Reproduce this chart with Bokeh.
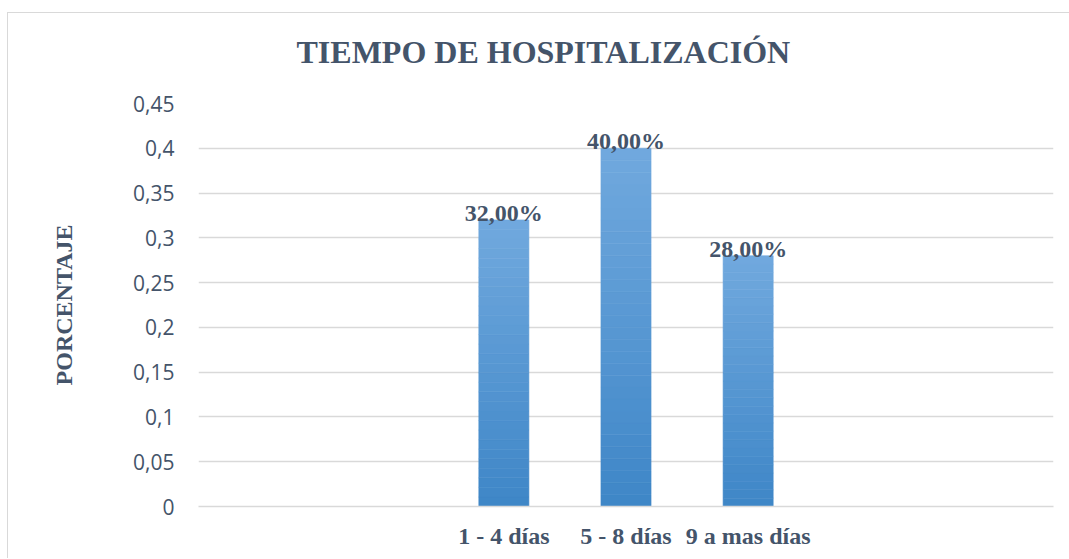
from bokeh.plotting import figure
from bokeh.models import FactorRange, Range1d, ColumnDataSource, LabelSet, Title, FixedTicker, CustomJSTickFormatter
from bokeh.embed import file_html
from bokeh.resources import INLINE

# ---- data ----
categories = ["1 - 4 días", "5 - 8 días", "9 a mas días"]
values = [0.32, 0.40, 0.28]
value_labels = ["32,00%", "40,00%", "28,00%"]
y_ticks = [0, 0.05, 0.1, 0.15, 0.2, 0.25, 0.3, 0.35, 0.4, 0.45]
chart_title = "TIEMPO DE HOSPITALIZACIÓN"

TEXT = "#44546A"
GRID = "#D9D9D9"
SERIF = "Liberation Serif"

x_range = FactorRange(factors=categories, range_padding=2, range_padding_units="absolute")
p = figure(x_range=x_range, y_range=Range1d(0, 0.45), width=1069, height=558,
           output_backend="svg", toolbar_location=None,
           min_border_left=198, min_border_right=16, min_border_top=103, min_border_bottom=52)
# light chart-area border (top and left edges) painted behind the transparent canvas
p.styles = {"background": ("linear-gradient(#D9D9D9, #D9D9D9) 7px 12px / 1px 100% no-repeat, "
                           "linear-gradient(#D9D9D9, #D9D9D9) 7px 12px / 100% 1px no-repeat, white")}
p.outline_line_color = None
p.background_fill_color = "white"
p.border_fill_color = None

# gradient bars (top lighter, bottom darker) built from stacked strips
n = 30
top_rgb = (0x71, 0xA9, 0xDE)
bot_rgb = (0x3E, 0x86, 0xC7)
for i in range(n):
    f0, f1 = i / n, (i + 1) / n
    t = (i + 0.5) / n
    col = "#%02x%02x%02x" % tuple(int(round(b + (a - b) * t)) for a, b in zip(top_rgb, bot_rgb))
    src = ColumnDataSource(dict(x=categories,
                                bottom=[v * f0 for v in values],
                                top=[v * f1 for v in values]))
    p.vbar(x="x", bottom="bottom", top="top", width=0.41, source=src,
           fill_color=col, line_color=col, line_width=0.6)

lab_src = ColumnDataSource(dict(x=categories, y=values, t=value_labels))
p.add_layout(LabelSet(x="x", y="y", text="t", source=lab_src, text_align="center",
                      text_baseline="alphabetic", y_offset=-1,
                      text_font=SERIF, text_font_style="bold", text_font_size="24px",
                      text_color=TEXT))

p.title = Title(text=chart_title, align="left", offset=98, standoff=63, vertical_align="top",
                text_font=SERIF, text_font_style="bold", text_font_size="32px", text_color=TEXT)

# axes
p.xgrid.grid_line_color = None
p.ygrid.grid_line_color = GRID
p.ygrid.grid_line_width = 1.5
p.yaxis.ticker = FixedTicker(ticks=y_ticks)
p.yaxis.formatter = CustomJSTickFormatter(code="return String(Math.round(tick*100)/100).replace('.', ',');")
p.yaxis.axis_line_color = None
p.yaxis.major_tick_line_color = None
p.yaxis.minor_tick_line_color = None
p.yaxis.major_label_standoff = 18
p.yaxis.major_label_text_font = "Open Sans"
p.yaxis.major_label_text_font_size = "21px"
p.yaxis.major_label_text_color = TEXT
p.yaxis.axis_label = "PORCENTAJE"
p.yaxis.axis_label_text_font = SERIF
p.yaxis.axis_label_text_font_style = "bold"
p.yaxis.axis_label_text_font_size = "24px"
p.yaxis.axis_label_text_color = TEXT
p.yaxis.axis_label_standoff = 53

p.xaxis.axis_line_color = GRID
p.xaxis.axis_line_width = 1.5
p.xaxis.major_tick_line_color = None
p.xaxis.minor_tick_line_color = None
p.xaxis.major_label_standoff = 10
p.xaxis.major_label_text_font = SERIF
p.xaxis.major_label_text_font_style = "bold"
p.xaxis.major_label_text_font_size = "24px"
p.xaxis.major_label_text_color = TEXT

open("out.html", "w").write(file_html(p, INLINE))
